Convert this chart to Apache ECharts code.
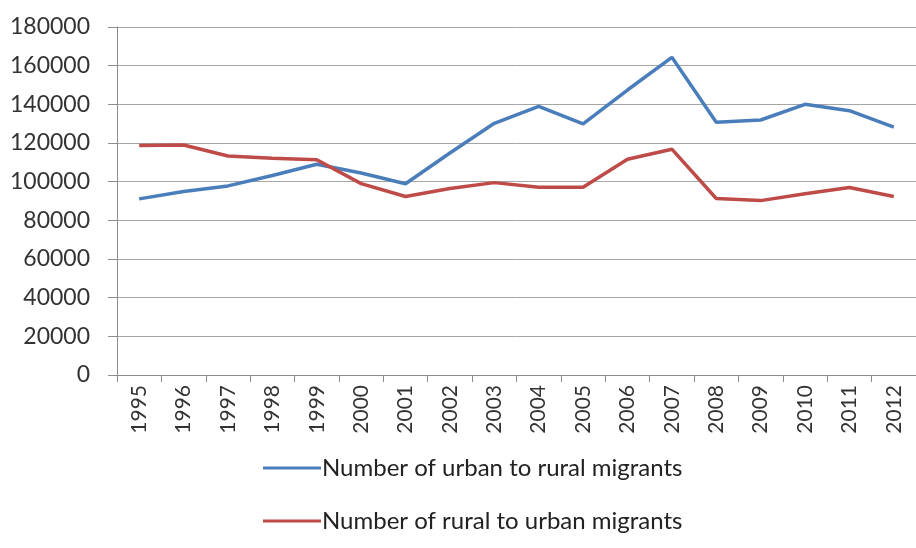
<!DOCTYPE html>
<html><head><meta charset="utf-8">
<script src="https://cdn.jsdelivr.net/npm/echarts@6/dist/echarts.min.js"></script>
<style>html,body{margin:0;padding:0;background:#fff}#c{width:916px;height:548px}</style>
</head><body><div id="c"></div>
<script>
const years = ['1995','1996','1997','1998','1999','2000','2001','2002','2003','2004','2005','2006','2007','2008','2009','2010','2011','2012'];
const urbanToRural = [91100,94900,97800,103200,109000,104500,98900,114800,130200,139000,129900,147400,164300,130700,131900,140000,136700,128200];
const ruralToUrban = [118700,119000,113300,112100,111300,99000,92300,96500,99500,97100,97100,111600,116800,91300,90200,93700,97000,92300];
const yTicks = {min:0, max:180000, interval:20000};
const names = ['Number of urban to rural migrants','Number of rural to urban migrants'];

const chart = echarts.init(document.getElementById('c'));
const font = 'Lato, "Open Sans", sans-serif';
chart.setOption({
  animation:false,
  grid:{left:117, right:-9, top:27, bottom:173, containLabel:false},
  legend:{
    orient:'vertical', left:258, top:451, itemGap:29, itemWidth:58, itemHeight:3,
    icon:'rect',
    textStyle:{fontFamily:font, fontSize:24, color:'#222', padding:[0,0,0,-4]},
    data:names
  },
  xAxis:{
    type:'category', data:years, boundaryGap:true,
    axisLine:{lineStyle:{color:'#8c8c8c', width:1}},
    axisTick:{show:true, interval:0, length:7, lineStyle:{color:'#8c8c8c'}},
    axisLabel:{rotate:90, interval:0, margin:10, fontFamily:font, fontSize:21, color:'#333'}
  },
  yAxis:{
    type:'value', min:yTicks.min, max:yTicks.max, interval:yTicks.interval,
    axisLine:{show:true, lineStyle:{color:'#8c8c8c', width:1}},
    axisTick:{show:true, length:9, lineStyle:{color:'#8c8c8c'}},
    splitLine:{lineStyle:{color:'#a6a6a6', width:1}},
    axisLabel:{margin:27, fontFamily:font, fontSize:23, color:'#333', formatter:function(v){return String(v);}}
  },
  series:[
    {name:names[0], type:'line', data:urbanToRural, symbol:'none', lineStyle:{color:'#4a7ebb', width:3.5}, itemStyle:{color:'#4a7ebb'}},
    {name:names[1], type:'line', data:ruralToUrban, symbol:'none', lineStyle:{color:'#be4b48', width:3.5}, itemStyle:{color:'#be4b48'}}
  ]
});
</script></body></html>
